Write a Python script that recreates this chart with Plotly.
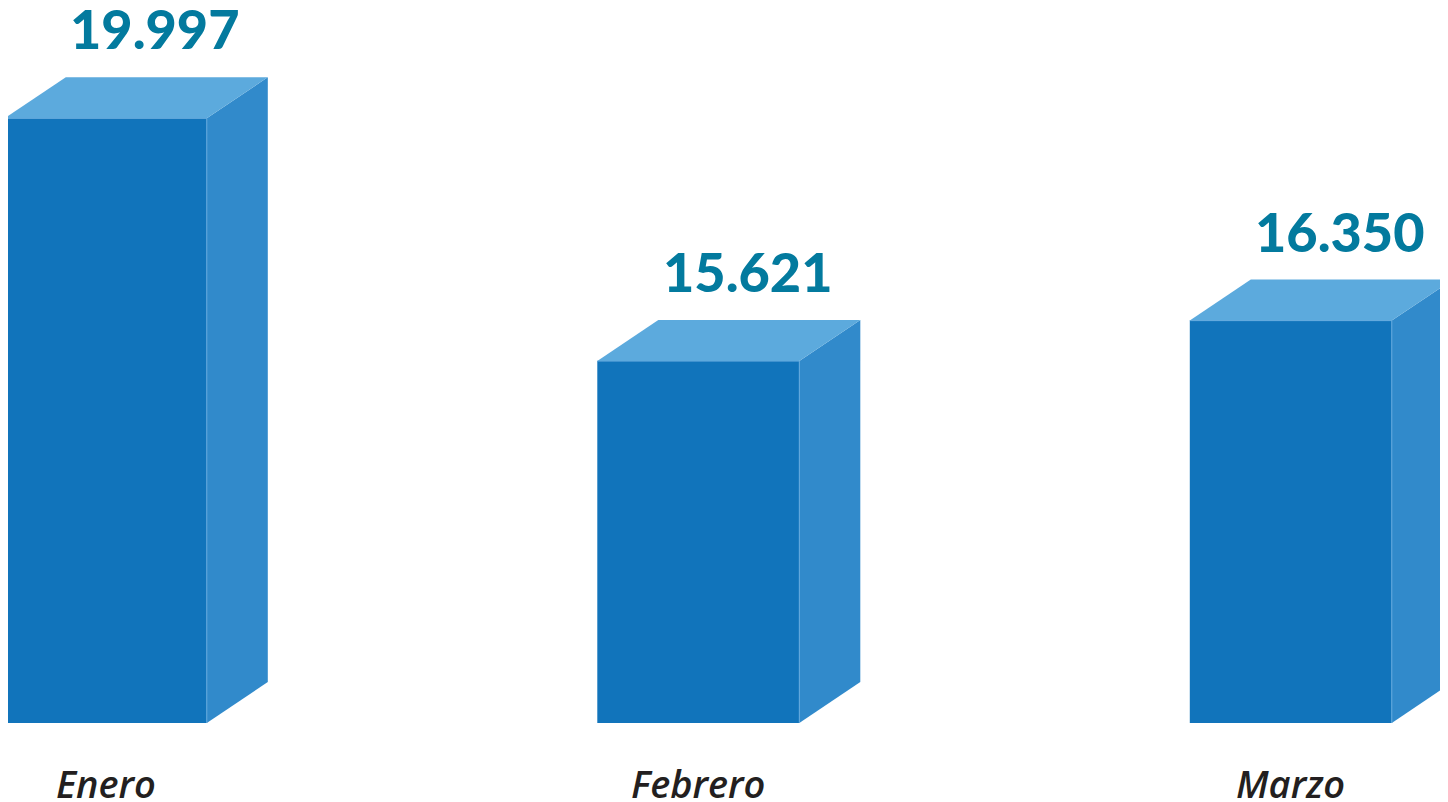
import plotly.graph_objects as go

categories = ["Enero", "Febrero", "Marzo"]
values = [19997, 15621, 16350]
value_labels = ["19.997", "15.621", "16.350"]

# page body has an 8px margin; figure fills the rest of the window
W, H = 1440, 794
FRONT = "#1174BB"
TOP = "#5CAADD"
SIDE = "#318ACB"
EDGE = "#62A9DE"
LABEL = "#037A9E"
TEXT = "#231F20"

# axis geometry (pixels -> data units), figure coordinates
px_per_unit_y = 0.0555
base = 9100
base_px = 715
ymin = base - (H - base_px) / px_per_unit_y
ymax = base + base_px / px_per_unit_y
px_per_x = 592.5
x0_px = 97.8
xmin = -x0_px / px_per_x
xmax = (W - x0_px) / px_per_x
bw = 202 / px_per_x
dx = 61 / px_per_x
dy = 41 / px_per_unit_y

xs = list(range(len(categories)))

fig = go.Figure()
fig.add_trace(go.Bar(x=xs, y=[v - base for v in values], base=base, width=bw,
                     marker=dict(color=FRONT, line=dict(width=0)), hoverinfo="skip"))

for x, v in zip(xs, values):
    r = x + bw / 2
    l = x - bw / 2
    fig.add_trace(go.Scatter(x=[r, r + dx, r + dx, r, r], y=[base, base + dy, v + dy, v, base],
                             fill="toself", fillcolor=SIDE, mode="lines",
                             line=dict(width=0, color=SIDE), hoverinfo="skip"))
    fig.add_trace(go.Scatter(x=[l, l + dx, r + dx, r, l], y=[v, v + dy, v + dy, v, v],
                             fill="toself", fillcolor=TOP, mode="lines",
                             line=dict(width=0, color=TOP), hoverinfo="skip"))
    fig.add_trace(go.Scatter(x=[l, r, r], y=[v, v, base], mode="lines",
                             line=dict(width=1, color=EDGE), hoverinfo="skip"))

annotations = []
for x, v, t, c in zip(xs, values, value_labels, categories):
    annotations.append(dict(x=x + 49 / px_per_x, y=v + dy, xref="x", yref="y", text=t,
                            showarrow=False, yanchor="bottom", yshift=14,
                            font=dict(family="Lato", size=54, color=LABEL, weight=900)))
    annotations.append(dict(x=x, y=0, xref="x", yref="paper", text="<i>" + c + "</i>",
                            showarrow=False, yanchor="bottom", yshift=-9,
                            font=dict(family="Open Sans", size=38, color=TEXT, weight=600)))

fig.update_layout(
    width=W, height=H, margin=dict(l=0, r=0, t=0, b=0),
    paper_bgcolor="white", plot_bgcolor="white", showlegend=False,
    xaxis=dict(range=[xmin, xmax], visible=False, fixedrange=True),
    yaxis=dict(range=[ymin, ymax], visible=False, fixedrange=True),
    annotations=annotations,
)
fig.write_html("out.html")
